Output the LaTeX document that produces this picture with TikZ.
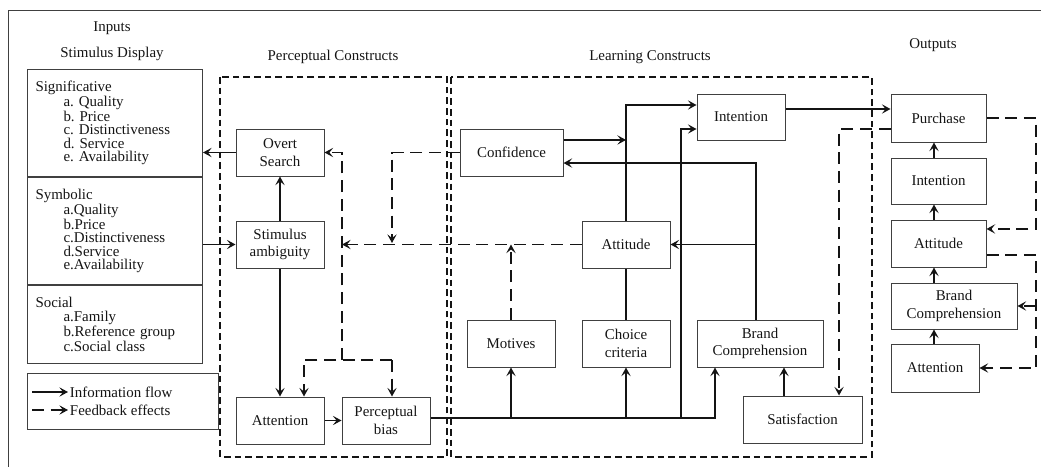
\documentclass[tikz,border=0pt]{standalone}
\usepackage{fontspec}
\setmainfont{Liberation Serif}
\usetikzlibrary{arrows.meta}
\definecolor{ModelInk}{gray}{0.08}
\definecolor{ModelFrame}{gray}{0.25}
\newcommand{\listindent}{\hspace*{21pt}}
\frenchspacing
\tikzset{
    model/diagram/.style={
        x=0.75pt, y=-0.75pt,
        font=\fontsize{11.2}{13.3}\selectfont,
        draw=ModelInk,
        text=ModelInk,
        line width=0.95pt,
        every node/.style={inner sep=2pt}
    },
    model/box/.style={
        draw=ModelFrame, line width=0.75pt, align=center,
        minimum width=66pt, minimum height=35.25pt, inner sep=1pt
    },
    model/list/.style={
        draw=ModelFrame, line width=0.75pt, align=left, anchor=north west,
        minimum width=131.25pt, text width=119.25pt, inner sep=6pt,
        font=\fontsize{11.2}{10.1}\selectfont
    },
    model/flow/.style={
        draw=ModelInk, line width=0.95pt,
        -{Stealth[length=6.5pt, width=7pt, inset=2.8pt]}
    },
    model/feedback/.style={
        model/flow, dash pattern=on 9pt off 5pt
    },
    model/region/.style={
        draw=ModelInk, line width=0.9pt, dash pattern=on 5pt off 3pt
    }
}
\begin{document}
\begin{tikzpicture}[model/diagram]
    \useasboundingbox (0,0) rectangle (1041,467);
    \draw[ModelFrame, line width=0.75pt] (8,467) -- (8,11) -- (1041,11);
    \node (inputs) at (112,28) {Inputs};
    \node (stimdisp) at (112,54) {Stimulus Display};
    \node (perctitle) at (333,57) {Perceptual Constructs};
    \node (learntitle) at (650,57) {Learning Constructs};
    \node (outtitle) at (933,45) {Outputs};
    \draw[model/region] (220,77) rectangle (447,457);
    \draw[model/region] (451,77) rectangle (872,457);
    \node[model/list, minimum height=80.25pt] (sig) at (27,69) {Significative\\
        \listindent a. Quality\\ \listindent b. Price\\ \listindent c. Distinctiveness\\
        \listindent d. Service\\ \listindent e. Availability};
    \node[model/list, minimum height=80.25pt] (sym) at (sig.south west) {Symbolic\\
        \listindent a.Quality\\ \listindent b.Price\\ \listindent c.Distinctiveness\\
        \listindent d.Service\\ \listindent e.Availability};
    \node[model/list, minimum height=58.5pt] (soc) at (sym.south west) {Social\\
        \listindent a.Family\\ \listindent b.Reference group\\ \listindent c.Social class};
    \node[draw=ModelFrame, line width=0.75pt, anchor=north west,
        minimum width=143.25pt, minimum height=42pt] (legend) at (27,373) {};
    \coordinate (lgsolida) at (32,392);
    \coordinate (lgsolidb) at (68,392);
    \coordinate (lgdasha) at (32,410);
    \coordinate (lgdashb) at (68,410);
    \draw[model/flow] (lgsolida) -- (lgsolidb);
    \draw[model/feedback] (lgdasha) -- (lgdashb);
    \node[anchor=west, inner sep=1pt] (lgflow) at (lgsolidb) {Information flow};
    \node[anchor=west, inner sep=1pt] (lgfeed) at (lgdashb) {Feedback effects};
    \node[model/box] (ovs) at (280,152.5) {Overt\\Search};
    \node[model/box] (amb) at (280,244.5) {Stimulus\\ambiguity};
    \node[model/box] (attp) at (280,420.5) {Attention};
    \node[model/box] (bias) at (386,420.5) {Perceptual\\bias};
    \node[model/box, minimum width=77.25pt] (conf) at (511.5,152.5) {Confidence};
    \node[model/box, minimum height=34.5pt] (intl) at (741,117) {Intention};
    \node[model/box] (attl) at (626,244.5) {Attitude};
    \node[model/box] (mot) at (511,343.5) {Motives};
    \node[model/box] (cho) at (626,343.5) {Choice\\criteria};
    \node[model/box, minimum width=94.5pt] (bcl) at (760,343.5) {Brand\\Comprehension};
    \node[model/box, minimum width=89.25pt] (sat) at (802.5,419.5) {Satisfaction};
    \node[model/box, minimum width=71.25pt, minimum height=36pt] (pur) at (938.5,118) {Purchase};
    \node[model/box, minimum width=71.25pt, minimum height=34.5pt] (into) at (938.5,181) {Intention};
    \node[model/box, minimum width=71.25pt] (atto) at (938.5,243.5) {Attitude};
    \node[model/box, minimum width=94.5pt, minimum height=34.5pt] (bco) at (954,306) {Brand\\Comprehension};
    \node[model/box, minimum height=36pt] (atno) at (935,368) {Attention};
    \coordinate (bus) at (715,418);
    \coordinate (riser) at (681,418);
    \coordinate (outcol) at (934,0);
    \coordinate (fbcol) at (1036,0);
    \coordinate (fbdrop) at (392,243);
    \coordinate (fbrail) at (342,360);
    \coordinate (fbleft) at (304,360);
    \coordinate (fbright) at (392,360);
    \draw[model/flow] (ovs.west) -- (ovs.west -| sig.east);
    \draw[model/flow] (sym.east |- amb.west) -- (amb.west);
    \draw[model/flow] (amb.north) -- (ovs.south);
    \draw[model/flow] (amb.south) -- (attp.north);
    \draw[model/flow] (attp.east) -- (bias.west);
    \draw[model/flow] (bias.east |- bus) -| (bus |- bcl.south);
    \draw[model/flow] (mot.south |- bus) -- (mot.south);
    \draw[model/flow] (cho.south |- bus) -- (cho.south);
    \draw[model/flow] (riser) |- ([yshift=-9pt]intl.west);
    \draw[model/flow] (attl.north) |- ([yshift=9pt]intl.west);
    \draw[model/flow] ([yshift=9.4pt]conf.east) -- ([yshift=9.4pt]conf.east -| attl.north);
    \draw[model/flow] ([xshift=-3pt]bcl.north) |- ([yshift=-7.9pt]conf.east);
    \draw[model/flow] ([xshift=-3pt]bcl.north |- attl.east) -- (attl.east);
    \draw (cho.north) -- (attl.south);
    \draw[model/flow] ([xshift=-13.9pt]sat.north) -- ([xshift=-13.9pt]sat.north |- bcl.south);
    \draw[model/flow] ([yshift=6pt]intl.east) -- ([yshift=6pt]intl.east -| pur.west);
    \draw[model/flow] (outcol |- into.north) -- (outcol |- pur.south);
    \draw[model/flow] (outcol |- atto.north) -- (outcol |- into.south);
    \draw[model/flow] (outcol |- bco.north) -- (outcol |- atto.south);
    \draw[model/flow] (outcol |- atno.north) -- (outcol |- bco.south);
    \draw[model/feedback] (conf.west) -| (fbdrop);
    \draw[model/feedback] (attl.west) -- (attl.west -| fbrail);
    \draw[model/feedback] (fbrail) |- (ovs.east);
    \draw[model/feedback] (fbright) -- (fbleft) -- (fbleft |- attp.north);
    \draw[model/feedback] (fbright) -- (fbright |- bias.north);
    \draw[model/feedback] (mot.north) -- (mot.north |- attl.west);
    \draw[model/feedback] ([yshift=-8.25pt]pur.west) -| ([xshift=27.4pt]sat.north);
    \draw[model/feedback] (pur.east) -- (pur.east -| fbcol) |- ([yshift=10.9pt]atto.east);
    \draw[model/feedback] ([yshift=-8.6pt]atto.east) -- ([yshift=-8.6pt]atto.east -| fbcol) |- (atno.east);
    \draw[model/feedback] (fbcol |- bco.east) -- (bco.east);
\end{tikzpicture}
\end{document}
